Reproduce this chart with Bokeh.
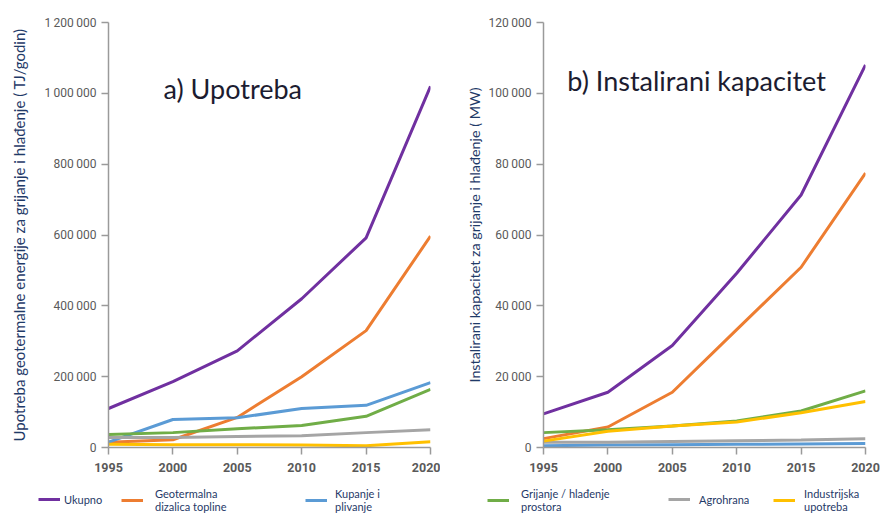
from bokeh.plotting import figure
from bokeh.models import Legend, LegendItem, Label, CustomJSTickFormatter, FixedTicker, Range1d
from bokeh.layouts import row, column
from bokeh.embed import file_html
from bokeh.resources import INLINE

years = [1995, 2000, 2005, 2010, 2015, 2020]

series_names = ["Ukupno", "Geotermalna\ndizalica topline", "Kupanje i\nplivanje",
                "Grijanje / hlađenje\nprostora", "Agrohrana", "Industrijska\nupotreba"]
series_colors = ["#7030a0", "#ed7d31", "#5b9bd5", "#70ad47", "#a5a5a5", "#ffc000"]

# a) Upotreba (TJ/godina)
use_ukupno = [110000, 186000, 273000, 420000, 592000, 1020000]
use_geo = [15000, 22000, 85000, 200000, 330000, 597000]
use_kupanje = [15000, 79000, 84000, 110000, 119000, 183000]
use_grijanje = [37000, 42000, 53000, 62000, 88000, 164000]
use_agro = [28000, 28000, 31000, 33000, 42000, 50000]
use_ind = [9000, 8000, 8000, 7000, 5000, 16000]

# b) Instalirani kapacitet (MW)
cap_ukupno = [9500, 15600, 28800, 49200, 71300, 108000]
cap_geo = [2500, 5800, 15600, 33300, 50900, 77500]
cap_kupanje = [500, 700, 800, 900, 1000, 1100]
cap_grijanje = [4200, 5000, 6100, 7500, 10300, 16000]
cap_agro = [1500, 1500, 1700, 1900, 2100, 2500]
cap_ind = [1800, 4600, 6100, 7200, 9800, 13000]

use_ticks = [0, 200000, 400000, 600000, 800000, 1000000, 1200000]
cap_ticks = [0, 20000, 40000, 60000, 80000, 100000, 120000]
year_ticks = [1995, 2000, 2005, 2010, 2015, 2020]

NAVY = "#1f3a68"
TICK_COLOR = "#5a5a5a"
AXIS_COLOR = "#9a9a9a"

fmt = CustomJSTickFormatter(code="""
    return Math.round(tick).toString().replace(/\\B(?=(\\d{3})+(?!\\d))/g, "\\u2009");
""")


def make_panel(values, ymax, yticks, ylabel, label_size, title, title_xy, width,
               border_left, border_right, label_standoff):
    p = figure(width=width, height=479, output_backend="svg", toolbar_location=None,
               x_range=Range1d(1995, 2020), y_range=Range1d(0, ymax),
               min_border_left=border_left, min_border_right=border_right,
               min_border_top=22, min_border_bottom=32)
    p.outline_line_color = None
    p.grid.visible = False

    for vals, col in zip(values, series_colors):
        p.line(years, vals, line_color=col, line_width=3)

    for ax in (p.xaxis, p.yaxis):
        ax.axis_line_color = AXIS_COLOR
        ax.axis_line_width = 1.5
        ax.major_tick_line_color = AXIS_COLOR
        ax.major_tick_line_width = 1.5
        ax.major_tick_in = 0
        ax.major_tick_out = 7
        ax.minor_tick_line_color = None
        ax.major_label_text_color = TICK_COLOR
        ax.major_label_text_font = "Roboto"

    p.xaxis.ticker = FixedTicker(ticks=year_ticks)
    p.xaxis.major_label_text_font_size = "12.5px"
    p.xaxis.major_label_text_font_style = "bold"
    p.xaxis.major_label_standoff = 8

    p.yaxis.ticker = FixedTicker(ticks=yticks)
    p.yaxis.formatter = fmt
    p.yaxis.major_label_text_font_size = "12px"
    p.yaxis.major_label_standoff = 5
    p.yaxis.axis_label = ylabel
    p.yaxis.axis_label_text_font = "Lato"
    p.yaxis.axis_label_text_font_size = label_size
    p.yaxis.axis_label_text_font_style = "normal"
    p.yaxis.axis_label_text_color = NAVY
    p.yaxis.axis_label_standoff = label_standoff

    p.add_layout(Label(x=title_xy[0], y=title_xy[1], text=title, text_font="Lato",
                       text_font_size="27px", text_color="#1c1c30",
                       text_baseline="middle", text_align="left"))
    return p


p1 = make_panel([use_ukupno, use_geo, use_kupanje, use_grijanje, use_agro, use_ind],
                1200000, use_ticks,
                "Upotreba geotermalne energije za grijanje i hlađenje ( TJ/godin)", "15px",
                "a) Upotreba", (1999.27, 1013600), 440, 108, 10, 13)
p2 = make_panel([cap_ukupno, cap_geo, cap_kupanje, cap_grijanje, cap_agro, cap_ind],
                120000, cap_ticks,
                "Instalirani kapacitet za grijanje i hlađenje ( MW)", "14.3px",
                "b) Instalirani kapacitet", (1996.85, 103600), 440, 103, 15, 3)

# Legend strip below both panels (series drawn outside the visible range, only the keys show)
lg = figure(width=880, height=34, output_backend="svg", toolbar_location=None,
            x_range=Range1d(0, 1), y_range=Range1d(0, 1),
            x_axis_location=None, y_axis_location=None,
            min_border_left=0, min_border_right=0, min_border_top=0, min_border_bottom=0)
lg.outline_line_color = None
lg.grid.visible = False

legend_series = [use_ukupno, use_geo, use_kupanje, use_grijanje, use_agro, use_ind]
legend_x = [38, 121, 305, 487, 668, 773]
legend_standoff = [4, 12, 8, 12, 9, 9]
for name, vals, col, lx, ls in zip(series_names, legend_series, series_colors,
                                   legend_x, legend_standoff):
    r = lg.line(years, vals, line_color=col, line_width=3)
    two_line = "\n" in name
    leg = Legend(items=[LegendItem(label=name, renderers=[r])],
                 location=(lx, 0 if two_line else 7), orientation="horizontal",
                 padding=0, margin=0, spacing=0, border_line_color=None,
                 background_fill_alpha=0, glyph_width=22, glyph_height=14,
                 label_standoff=ls, label_text_font="Lato",
                 label_text_font_size="11px", label_text_color=NAVY,
                 label_text_line_height=1.35)
    lg.add_layout(leg)

layout = column(row(p1, p2, spacing=0), lg, spacing=0)
open("out.html", "w").write(file_html(layout, INLINE))
